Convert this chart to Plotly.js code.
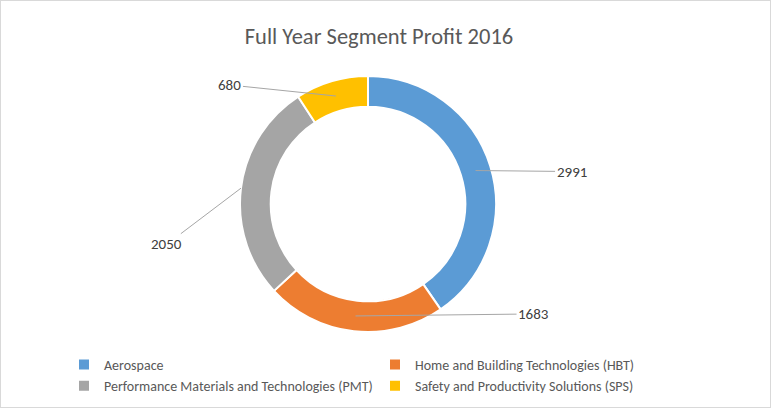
<!DOCTYPE html>
<html>
<head>
<meta charset="utf-8">
<script src="https://cdn.plot.ly/plotly-3.0.1.min.js"></script>
<style>
  html, body { margin: 0; padding: 0; background: #fff; }
  #chart { width: 769px; height: 406px; border: 1px solid #d9d9d9; }
</style>
</head>
<body>
<div id="chart"></div>
<script>
const segments = ["Aerospace", "Home and Building Technologies (HBT)", "Performance Materials and Technologies (PMT)", "Safety and Productivity Solutions (SPS)"];
const profits = [2991, 1683, 2050, 680];
const colors = ["#5B9BD5", "#ED7D31", "#A5A5A5", "#FFC000"];
const chartTitle = "Full Year Segment Profit 2016";

// layout geometry (pixels inside the plot div)
const W = 769, H = 406;
const cx = 367, cy = 203, R = 128, holeFrac = 0.76;
// label offsets (pixels) from the anchor on the ring, and where on the ring the leader ends
const labelOffsets = [[96, 1], [178, -2], [-74, 56], [-106, -11]];
const anchorRing = [0.5, 0.5, 0.0, 0.5]; // 0 = outer edge, 0.5 = middle of ring

const FONT = "Carlito, Lato, 'Open Sans', sans-serif";
const total = profits.reduce((a, b) => a + b, 0);
let cum = 0;
const annotations = profits.map((v, i) => {
  const mid = (cum + v / 2) / total;
  cum += v;
  const ang = mid * 2 * Math.PI;
  const r = R - anchorRing[i] * R * (1 - holeFrac);
  const px = cx + r * Math.sin(ang);
  const py = cy - r * Math.cos(ang);
  return {
    x: px / W, y: 1 - py / H, xref: "paper", yref: "paper",
    text: String(v), showarrow: true, arrowhead: 0, arrowwidth: 1,
    arrowcolor: "#a6a6a6", standoff: 0, startstandoff: 0,
    ax: labelOffsets[i][0], ay: labelOffsets[i][1],
    font: { family: FONT, size: 15, color: "#404040" },
    borderpad: 1
  };
});

const trace = {
  type: "pie",
  labels: segments,
  values: profits,
  sort: false,
  direction: "clockwise",
  rotation: 0,
  hole: holeFrac,
  textinfo: "none",
  hoverinfo: "label+value",
  marker: { colors: colors, line: { color: "#ffffff", width: 2 } },
  domain: { x: [(cx - R) / W, (cx + R) / W], y: [1 - (cy + R) / H, 1 - (cy - R) / H] }
};

const layout = {
  width: W, height: H,
  margin: { l: 0, r: 0, t: 0, b: 0 },
  paper_bgcolor: "#ffffff",
  title: {
    text: chartTitle,
    x: 378 / W, xanchor: "center", y: 1 - 35 / H, yanchor: "middle",
    font: { family: FONT, size: 22.5, color: "#595959" }
  },
  showlegend: true,
  legend: {
    orientation: "h",
    x: 63 / W, xanchor: "left",
    y: 1 - 348 / H, yanchor: "top",
    entrywidth: 266, entrywidthmode: "pixels",
    itemwidth: 30,
    traceorder: "normal",
    font: { family: FONT, size: 14, color: "#595959" }
  },
  annotations: annotations
};

Plotly.newPlot("chart", [trace], layout, { displayModeBar: false, staticPlot: true });
</script>
</body>
</html>
